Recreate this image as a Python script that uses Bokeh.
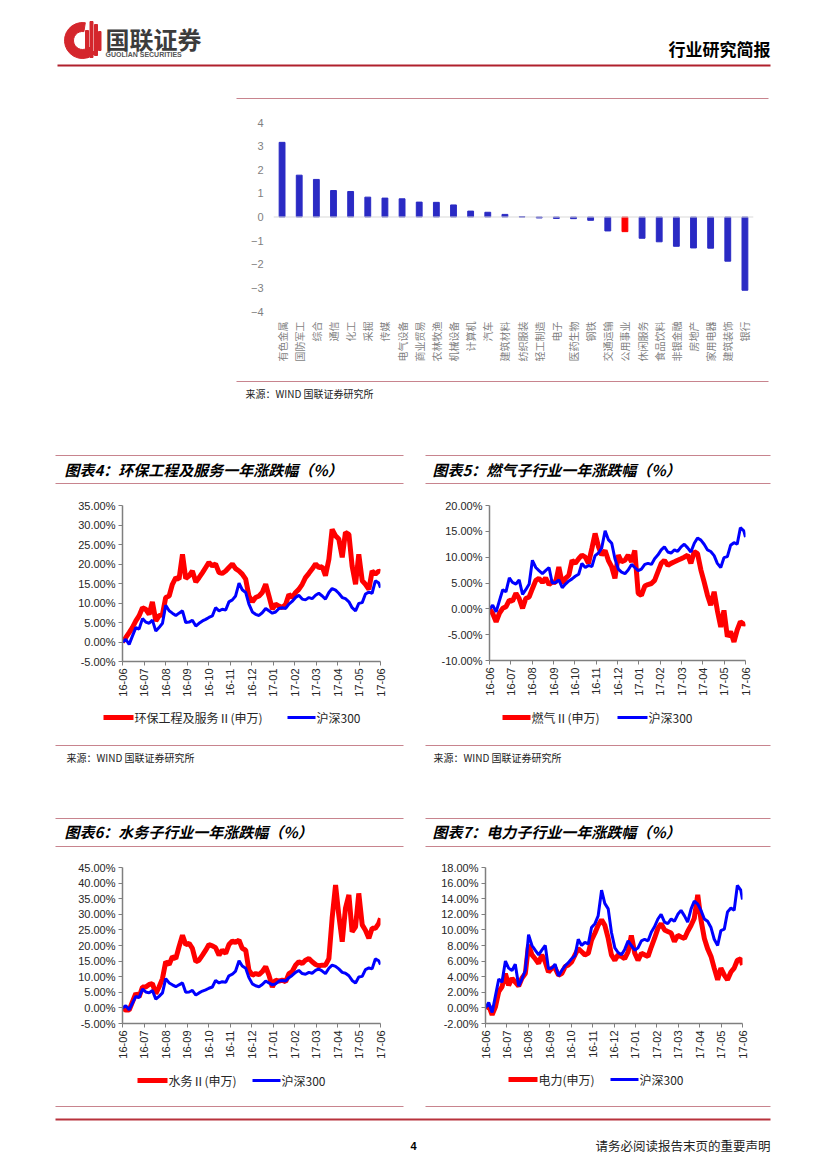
from math import pi
from bokeh.plotting import figure
from bokeh.layouts import column, row
from bokeh.models import (Range1d, FactorRange, FixedTicker, Span)
from bokeh.core.properties import value
from bokeh.embed import file_html
from bokeh.resources import INLINE

# ---------------- data ----------------
BAR_CATS = ["有色金属", "国防军工", "综合", "通信", "化工", "采掘", "传媒", "电气设备",
            "商业贸易", "农林牧渔", "机械设备", "计算机", "汽车", "建筑材料", "纺织服装",
            "轻工制造", "电子", "医药生物", "钢铁", "交通运输", "公用事业", "休闲服务",
            "食品饮料", "非银金融", "房地产", "家用电器", "建筑装饰", "银行"]
BAR_VALS = [3.16, 1.77, 1.59, 1.12, 1.08, 0.84, 0.80, 0.77, 0.63, 0.62, 0.51, 0.25, 0.20,
            0.11, 0.01, -0.04, -0.06, -0.07, -0.14, -0.59, -0.62, -0.90, -1.05, -1.24,
            -1.31, -1.32, -1.87, -3.10]
BAR_HIGHLIGHT = "公用事业"
BAR_TICKS = [-4, -3, -2, -1, 0, 1, 2, 3, 4]

MONTH_LABELS = ["16-06", "16-07", "16-08", "16-09", "16-10", "16-11", "16-12",
                "17-01", "17-02", "17-03", "17-04", "17-05", "17-06"]

# time in months since 16-06
T = [0.00, 0.15, 0.31, 0.46, 0.62, 0.77, 0.93, 1.08, 1.24, 1.39, 1.55, 1.70, 1.86, 2.01,
     2.17, 2.32, 2.48, 2.63, 2.79, 2.94, 3.10, 3.25, 3.41, 3.56, 3.72, 3.87, 4.02, 4.18,
     4.33, 4.49, 4.64, 4.80, 4.95, 5.11, 5.26, 5.42, 5.57, 5.73, 5.88, 6.04, 6.19, 6.35,
     6.50, 6.66, 6.81, 6.97, 7.12, 7.28, 7.43, 7.59, 7.74, 7.89, 8.05, 8.20, 8.36, 8.51,
     8.67, 8.82, 8.98, 9.13, 9.29, 9.44, 9.60, 9.75, 9.91, 10.06, 10.22, 10.37, 10.53,
     10.68, 10.84, 10.99, 11.15, 11.30, 11.46, 11.61, 11.76, 11.92, 12.00]

HS300 = [0.0, 0.7, -0.6, 1.5, 3.7, 3.3, 6.0, 5.1, 4.8, 5.6, 2.8, 3.7, 4.8, 9.4,
         8.0, 7.4, 6.8, 7.4, 8.0, 5.0, 5.1, 5.6, 4.1, 4.8, 5.4, 5.8, 6.3, 6.7,
         8.8, 8.0, 8.4, 8.2, 10.3, 10.8, 11.8, 15.1, 13.4, 12.7, 9.7, 7.7, 7.1, 6.8,
         7.5, 8.6, 8.0, 7.4, 7.7, 8.6, 8.8, 8.6, 9.7, 10.4, 11.4, 12.0, 11.0, 10.8,
         11.4, 11.1, 12.0, 12.5, 11.8, 11.0, 12.7, 13.7, 13.3, 12.5, 11.4, 11.1, 10.3,
         8.8, 8.0, 9.9, 10.1, 12.3, 12.8, 12.5, 15.7, 15.1, 13.9]

ENV = [0.0, 1.1, 2.4, 3.7, 5.4, 6.7, 8.8, 8.4, 7.1, 10.3, 5.4, 6.7, 7.1, 11.4,
       11.8, 14.8, 16.5, 16.1, 22.5, 16.3, 17.0, 18.2, 15.4, 16.5, 17.8, 19.1, 20.4, 19.5,
       20.0, 17.8, 17.6, 18.2, 19.1, 20.0, 18.8, 18.2, 17.4, 16.1, 11.8, 10.3, 11.4, 11.8,
       12.7, 14.8, 11.8, 8.4, 9.7, 9.2, 8.8, 9.7, 12.2, 11.4, 12.7, 13.5, 14.8, 16.5,
       17.6, 18.7, 20.0, 19.1, 19.3, 17.0, 21.2, 28.9, 27.2, 26.4, 21.7, 28.1, 27.6,
       19.5, 14.8, 22.5, 15.7, 14.8, 13.5, 18.2, 17.4, 18.2, 18.0]

GAS = [0.0, -0.9, -2.5, -0.9, 0.1, 0.4, 1.7, 1.5, 3.0, 2.0, 0.1, 2.0, 2.3, 3.9,
       5.5, 5.9, 5.1, 6.0, 4.7, 5.2, 5.1, 8.1, 4.9, 5.9, 6.5, 9.4, 8.8, 9.7,
       10.4, 10.0, 8.8, 11.7, 14.6, 12.0, 10.4, 11.3, 9.4, 8.1, 5.9, 10.4, 9.1, 9.4,
       10.4, 9.1, 11.3, 3.0, 2.6, 4.4, 4.7, 4.9, 5.5, 7.1, 8.8, 9.4, 8.4, 8.8,
       9.1, 9.4, 9.7, 10.0, 10.4, 8.8, 11.1, 10.7, 7.5, 5.2, 2.6, 0.7, 3.3,
       -0.3, -3.5, -0.3, -5.4, -4.4, -6.4, -4.1, -2.5, -3.0, -2.8]

WATER = [0.0, -0.7, -0.7, 1.9, 4.6, 3.5, 6.7, 6.7, 7.5, 7.8, 4.6, 6.7, 9.4, 14.8,
         13.9, 16.4, 15.8, 19.6, 23.3, 20.3, 20.7, 19.1, 14.8, 15.3, 16.9, 18.5, 20.3, 19.9,
         19.3, 16.9, 18.5, 17.5, 20.3, 21.4, 21.0, 21.7, 19.1, 18.5, 12.1, 10.5, 11.0, 10.7,
         11.6, 13.2, 10.5, 6.7, 8.9, 8.6, 8.9, 8.4, 11.0, 11.6, 13.7, 14.8, 14.2, 15.3,
         15.8, 14.8, 13.9, 13.5, 13.7, 13.7, 15.8, 28.7, 39.4, 29.8, 21.2, 31.9, 36.2,
         24.4, 26.0, 36.7, 26.6, 24.9, 22.3, 25.5, 25.5, 27.1, 28.7]

POWER = [0.0, 0.3, -0.9, 0.1, 2.1, 2.7, 4.4, 2.9, 3.8, 3.3, 2.8, 3.8, 4.4, 8.1,
         6.8, 6.3, 5.7, 6.8, 5.9, 4.6, 5.1, 5.1, 4.2, 4.4, 5.3, 5.5, 5.9, 6.8,
         7.6, 7.2, 6.8, 7.0, 8.7, 9.6, 10.6, 11.3, 10.6, 8.9, 6.8, 6.1, 6.8, 6.6,
         6.3, 7.2, 9.3, 7.0, 6.1, 7.0, 6.8, 6.6, 7.8, 8.9, 10.2, 10.8, 10.0, 9.8,
         9.6, 8.5, 9.3, 9.1, 8.9, 9.8, 10.6, 11.5, 14.5, 11.3, 8.9, 7.6, 6.6,
         5.1, 3.6, 5.1, 4.2, 3.6, 4.6, 5.1, 6.1, 6.3, 5.5]

HS300_NAME = "沪深300"

# ---------------- styles ----------------
CJK = "Noto Sans CJK SC"
SANS = "Liberation Sans"
PINK = "#c8848e"
DARKRED = "#b0202c"
RED = "#ff0000"
BLUE = "#0000ff"
BARBLUE = "#2a2ac4"
RED_W, BLUE_W = 5, 3
SOURCE = "来源：WIND 国联证券研究所"


def deco(x0, y0, w, h):
    p = figure(width=w, height=h, x_range=Range1d(x0, x0 + w), y_range=Range1d(y0 + h, y0),
               output_backend="svg", toolbar_location=None, min_border=0,
               x_axis_location=None, y_axis_location=None, frame_align=False)
    p.grid.visible = False
    p.outline_line_color = None
    return p


def txt(p, x, y, s, size, color="#000000", align="left", font=CJK, style="normal"):
    p.text(x=[x], y=[y], text=[s], text_font=value(font), text_font_size=size,
           text_color=color, text_align=align, text_baseline="middle", text_font_style=style)


def hline(p, x0, x1, y, color=PINK, width=1.2):
    p.segment(x0=[x0], y0=[y], x1=[x1], y1=[y], line_color=color, line_width=width)


def legend_keys(p, y, keys):
    # keys: (x0, x1, color, width, label)
    for x0, x1, color, w, label in keys:
        hline(p, x0, x1, y, color, w)
        txt(p, x1 + 1, y, label, "12px", "#262626", font=CJK)


# ---------------- header ----------------
hdr = deco(0, 0, 827, 100)
hdr.annular_wedge(x=[82], y=[40], inner_radius=9, outer_radius=18, start_angle=pi * 0.45,
                  end_angle=pi * 1.75, color="#d4262c")
hdr.quad(left=[85, 89.5, 94, 98], right=[88, 92.5, 97, 100.5], top=[30, 21, 24, 31],
         bottom=[57, 57, 55, 50], color="#d4262c")
txt(hdr, 105, 38, "国联证券", "24px", "#3c3c3c", style="bold")
txt(hdr, 105, 54, "GUOLIAN SECURITIES", "7px", "#555555", font=SANS, style="bold")
txt(hdr, 770, 48, "行业研究简报", "17px", "#000000", align="right", style="bold")
hline(hdr, 57, 770, 65, DARKRED, 2)
hline(hdr, 236, 768, 98, PINK, 1.2)

# ---------------- bar chart ----------------
bar = figure(width=827, height=276, x_range=FactorRange(*BAR_CATS, range_padding=0),
             y_range=Range1d(-4, 4), output_backend="svg", toolbar_location=None,
             min_border_left=273, min_border_right=74, min_border_top=22, min_border_bottom=65,
             frame_align=False)
bar_colors = [RED if c == BAR_HIGHLIGHT else BARBLUE for c in BAR_CATS]
bar.vbar(x=BAR_CATS, top=BAR_VALS, width=0.34, color=bar_colors)
bar.add_layout(Span(location=0, dimension="width", line_color="#d9d9d9", line_width=1))
bar.grid.visible = False
bar.outline_line_color = None
bar.yaxis.ticker = FixedTicker(ticks=BAR_TICKS)
for ax in (bar.xaxis[0], bar.yaxis[0]):
    ax.axis_line_color = None
    ax.major_tick_line_color = None
    ax.minor_tick_line_color = None
    ax.major_tick_out = 0
    ax.major_label_text_color = "#7f7f7f"
bar.yaxis.major_label_text_font = SANS
bar.yaxis.major_label_text_font_size = "11px"
bar.yaxis.major_label_standoff = 10
bar.xaxis.major_label_orientation = pi / 2
bar.xaxis.major_label_text_font = CJK
bar.xaxis.major_label_text_font_size = "10px"
bar.xaxis.major_label_standoff = 10

bar_src = deco(0, 376, 827, 74)
hline(bar_src, 236, 768, 381)
txt(bar_src, 245, 393, SOURCE, "10px", "#222222")


# ---------------- line charts ----------------
def line_chart(px0, py0, w, h, frame, yr, ystep, red_vals):
    fl, fr, ft, fb = frame
    p = figure(width=w, height=h, x_range=Range1d(0, 12), y_range=Range1d(*yr),
               output_backend="svg", toolbar_location=None, frame_align=False,
               min_border_left=round(fl - px0), min_border_right=round(px0 + w - fr),
               min_border_top=round(ft - py0), min_border_bottom=round(py0 + h - fb))
    p.line(T, red_vals, line_color=RED, line_width=RED_W)
    p.line(T, HS300, line_color=BLUE, line_width=BLUE_W)
    p.grid.visible = False
    p.outline_line_color = None
    yt = []
    v = yr[0]
    while v <= yr[1] + 1e-9:
        yt.append(round(v, 2))
        v += ystep
    p.yaxis.ticker = FixedTicker(ticks=yt)
    p.yaxis.major_label_overrides = {t: f"{t:.2f}%" for t in yt}
    p.xaxis.ticker = FixedTicker(ticks=list(range(13)))
    p.xaxis.major_label_overrides = {i: s for i, s in enumerate(MONTH_LABELS)}
    p.xaxis.major_label_orientation = pi / 2
    for ax in (p.xaxis[0], p.yaxis[0]):
        ax.axis_line_color = "#7f7f7f"
        ax.axis_line_width = 1.5
        ax.major_tick_line_color = "#7f7f7f"
        ax.major_tick_out = 4
        ax.major_tick_in = 0
        ax.minor_tick_line_color = None
        ax.major_label_text_font = SANS
        ax.major_label_text_font_size = "11px"
        ax.major_label_text_color = "#262626"
        ax.major_label_standoff = 3
    return p


def title_block(x0, y0, w, h, lx0, lx1, tx, ytop, ytitle, ybot, title):
    p = deco(x0, y0, w, h)
    hline(p, lx0, lx1, ytop)
    hline(p, lx0, lx1, ybot)
    txt(p, tx, ytitle, title, "15px", "#000000", style="bold italic")
    return p


def source_block(x0, y0, w, h, lx0, lx1, tx, yleg, keys, yline, ytext):
    p = deco(x0, y0, w, h)
    legend_keys(p, yleg, keys)
    hline(p, lx0, lx1, yline)
    txt(p, tx, ytext, SOURCE, "10px", "#222222")
    return p


LW, RW = 414, 413
LX, RX = 0, 414

t4 = title_block(LX, 450, LW, 40, 55, 403, 64, 455, 469, 483, "图表4：环保工程及服务一年涨跌幅（%）")
c4 = line_chart(LX, 490, LW, 218, (122, 380, 505, 661), (-5, 35), 5, ENV)
s4 = source_block(LX, 708, LW, 104, 55, 403, 66, 717,
                  [(103, 133, RED, RED_W, "环保工程及服务Ⅱ(申万)"),
                   (287, 315, BLUE, BLUE_W, HS300_NAME)], 745, 757)

t5 = title_block(RX, 450, RW, 40, 425, 770, 432, 455, 469, 483, "图表5：燃气子行业一年涨跌幅（%）")
c5 = line_chart(RX, 490, RW, 218, (489, 745, 505, 660), (-10, 20), 5, GAS)
s5 = source_block(RX, 708, RW, 104, 425, 770, 433, 717,
                  [(502, 530, RED, RED_W, "燃气Ⅱ(申万)"),
                   (617, 647, BLUE, BLUE_W, HS300_NAME)], 745, 757)

t6 = title_block(LX, 812, LW, 41, 55, 403, 64, 818, 831, 846, "图表6：水务子行业一年涨跌幅（%）")
c6 = line_chart(LX, 853, LW, 217, (122, 380, 867, 1023), (-5, 45), 5, WATER)
l6 = deco(LX, 1070, LW, 30)
legend_keys(l6, 1080, [(137, 167, RED, RED_W, "水务Ⅱ(申万)"),
                       (252, 280, BLUE, BLUE_W, HS300_NAME)])

t7 = title_block(RX, 812, RW, 41, 425, 770, 432, 818, 831, 846, "图表7：电力子行业一年涨跌幅（%）")
c7 = line_chart(RX, 853, RW, 217, (485, 742, 867, 1023), (-2, 18), 2, POWER)
l7 = deco(RX, 1070, RW, 30)
legend_keys(l7, 1079, [(508, 537, RED, RED_W, "电力(申万)"),
                       (610, 638, BLUE, BLUE_W, HS300_NAME)])

ftr = deco(0, 1100, 827, 69)
hline(ftr, 55, 403, 1106)
hline(ftr, 425, 770, 1106)
hline(ftr, 55, 770, 1119, "#b8323c", 2)
txt(ftr, 413, 1145, "4", "11px", "#000000", align="center", font=SANS, style="bold")
txt(ftr, 770, 1145, "请务必阅读报告末页的重要声明", "12.5px", "#222222", align="right")

page = column(
    hdr, bar, bar_src,
    row(column(t4, c4, s4), column(t5, c5, s5)),
    row(column(t6, c6, l6), column(t7, c7, l7)),
    ftr,
)

open("out.html", "w").write(file_html(page, INLINE))
